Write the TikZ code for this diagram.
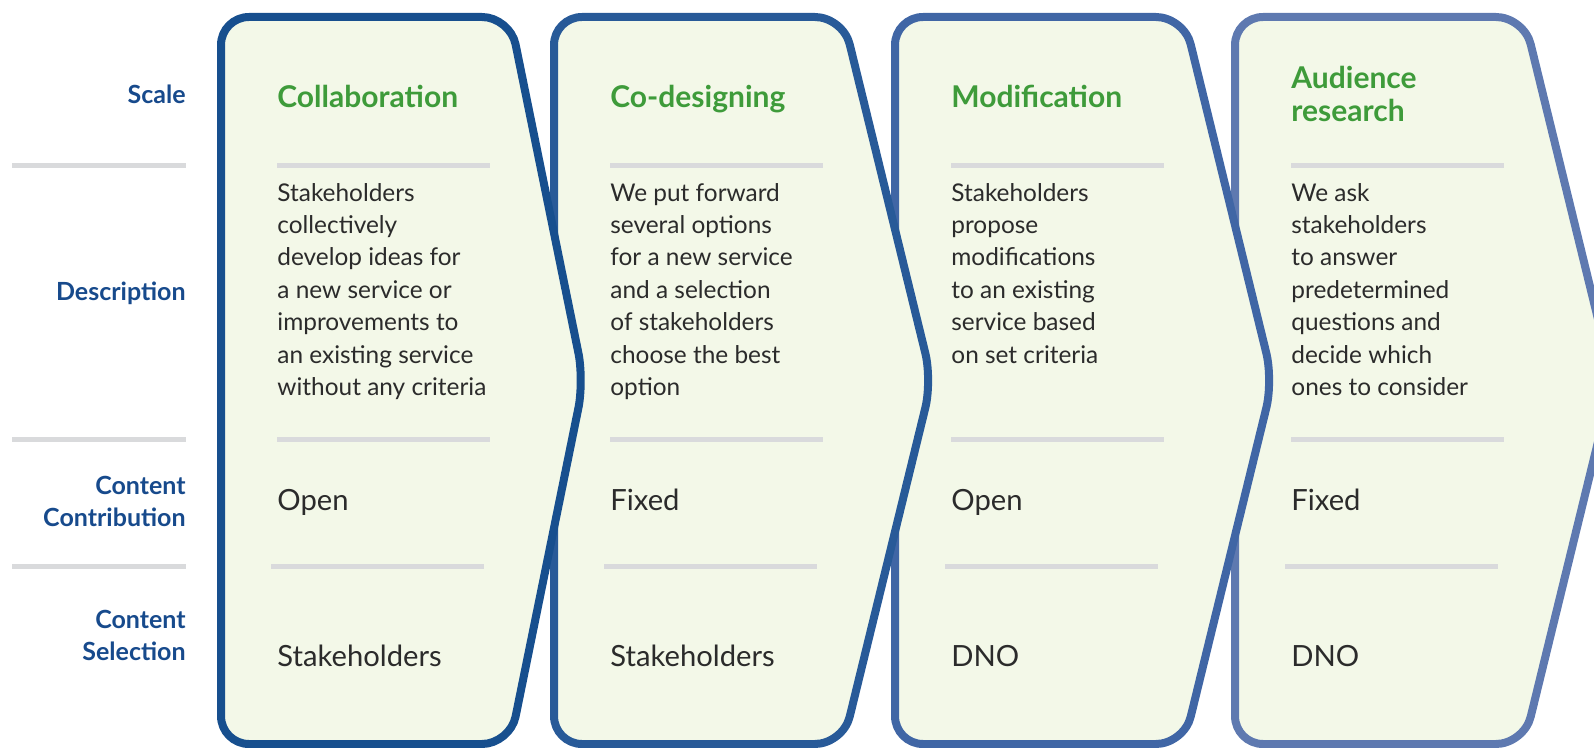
\documentclass[tikz,border=0pt]{standalone}
\usepackage{fontspec}
\setmainfont{Lato}
\usetikzlibrary{positioning}
\definecolor{ChevOne}{HTML}{174F8E}
\definecolor{ChevTwo}{HTML}{285A98}
\definecolor{ChevThree}{HTML}{4066A5}
\definecolor{ChevFour}{HTML}{5E79B0}
\definecolor{ChevFill}{HTML}{F3F8E8}
\definecolor{LabelBlue}{HTML}{174A8C}
\definecolor{TitleGreen}{HTML}{3E9B3A}
\definecolor{RuleGray}{HTML}{D9DADC}
\definecolor{BodyText}{HTML}{2B2B2B}
% #1 left edge, #2 tip offset, #3 border colour
\newcommand{\chevronpath}[3]{%
  \draw[chev, draw=#3] (#1,380.5) -- (#1,17) -- (#1+289,17) -- (#1+#2,380.5)
    -- (#1+289,744) -- (#1,744) -- cycle;}
% separators inside one chevron
\newcommand{\chevronrules}[1]{%
  \draw[rowline] (#1+56,166) -- (#1+269,166);
  \draw[rowline] (#1+56,439) -- (#1+269,439);
  \draw[rowline] (#1+50,566) -- (#1+263,566);}

\begin{document}
\begin{tikzpicture}[x=0.5pt, y=-0.5pt,
    chev/.style={line width=4pt, fill=ChevFill, rounded corners=14pt, line join=round},
    rowline/.style={line width=2.5pt, draw=RuleGray},
    rowlabel/.style={font=\fontsize{12.5}{16}\selectfont\bfseries, text=LabelBlue,
                     align=right, anchor=base east, inner sep=0pt},
    steptitle/.style={font=\fontsize{15}{16.7}\selectfont\bfseries, text=TitleGreen,
                      align=left, anchor=base west, inner sep=0pt},
    stepdesc/.style={font=\fontsize{12.2}{16.2}\selectfont, text=BodyText,
                     align=left, anchor=base west, inner sep=0pt},
    stepvalue/.style={font=\fontsize{14.6}{17}\selectfont, text=BodyText,
                      anchor=base west, inner sep=0pt}]
    \useasboundingbox (0,0) rectangle (1594,748);
    \clip (0,0) rectangle (1594,748);

    % chevrons, right to left so each tip lies on top
    \chevronpath{1235}{378}{ChevFour}
    \chevronpath{895}{378}{ChevThree}
    \chevronpath{554}{378}{ChevTwo}
    \chevronpath{221}{363}{ChevOne}

    \chevronrules{221}
    \chevronrules{554}
    \chevronrules{895}
    \chevronrules{1235}

    % row labels (multi-line nodes sit on their last baseline)
    \draw[rowline] (12,166) -- (186,166);
    \draw[rowline] (12,439) -- (186,439);
    \draw[rowline] (12,566) -- (186,566);
    \node[rowlabel] (scale) at (186,104) {Scale};
    \node[rowlabel] (description) at (186,301) {Description};
    \node[rowlabel] (contribution) at (186,526) {Content\\Contribution};
    \node[rowlabel] (selection) at (186,660) {Content\\Selection};

    % collaboration
    \node[steptitle] (collabTitle) at (277,108) {Collaboration};
    \node[stepdesc] (collabDesc) at (277,395.5) {Stakeholders\\collectively\\develop ideas for\\a new service or\\improvements to\\an existing service\\without any criteria};
    \node[stepvalue] (collabContrib) at (277,510) {Open};
    \node[stepvalue] (collabSelect) at (277,666) {Stakeholders};

    % co-designing
    \node[steptitle] (codesignTitle) at (610,108) {Co-designing};
    \node[stepdesc] (codesignDesc) at (610,395.5) {We put forward\\several options\\for a new service\\and a selection\\of stakeholders\\choose the best\\option};
    \node[stepvalue] (codesignContrib) at (610,510) {Fixed};
    \node[stepvalue] (codesignSelect) at (610,666) {Stakeholders};

    % modification
    \node[steptitle] (modifTitle) at (951,108) {Modification};
    \node[stepdesc] (modifDesc) at (951,363.1) {Stakeholders\\propose\\modifications\\to an existing\\service based\\on set criteria};
    \node[stepvalue] (modifContrib) at (951,510) {Open};
    \node[stepvalue] (modifSelect) at (951,666) {DNO};

    % audience research
    \node[steptitle] (audienceTitle) at (1291,121.5) {Audience\\research};
    \node[stepdesc] (audienceDesc) at (1291,395.5) {We ask\\stakeholders\\to answer\\predetermined\\questions and\\decide which\\ones to consider};
    \node[stepvalue] (audienceContrib) at (1291,510) {Fixed};
    \node[stepvalue] (audienceSelect) at (1291,666) {DNO};
\end{tikzpicture}
\end{document}
